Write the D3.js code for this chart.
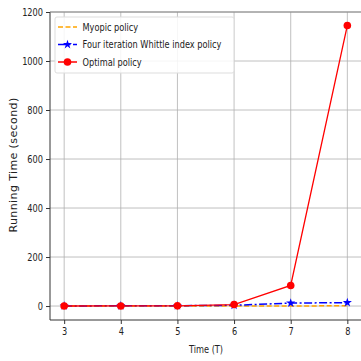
<!DOCTYPE html>
<html>
<head>
<meta charset="utf-8">
<script src="https://cdn.jsdelivr.net/npm/d3@7"></script>
<style>
  html, body { margin: 0; padding: 0; background: #fff; }
  svg { display: block; }
  text { font-family: "DejaVu Sans", sans-serif; fill: #222; }
</style>
</head>
<body>
<svg id="chart" width="361" height="361"></svg>
<script>
// Horizon lengths T
const horizons = [3, 4, 5, 6, 7, 8];
// Running time in seconds for each policy
const myopicTimes = [0.1, 0.1, 0.2, 0.3, 0.5, 0.8];
const whittleTimes = [0.5, 0.8, 1.2, 3, 12, 14];
const optimalTimes = [0.2, 0.4, 0.8, 6, 84, 1145];
// Axis ticks
const xTicks = [3, 4, 5, 6, 7, 8];
const yTicks = [0, 200, 400, 600, 800, 1000, 1200];
const seriesNames = ["Myopic policy", "Four iteration Whittle index policy", "Optimal policy"];

const svg = d3.select("#chart");
const W = 361, H = 361;
const margin = { left: 50, right: 0, top: 12, bottom: 41 };
const plotH = H - margin.top - margin.bottom;
const squeeze = 0.76;
const fs = 10.8;

const x = d3.scaleLinear().domain([2.75, 8.25]).range([margin.left, margin.left + 311.5]);
const y = d3.scaleLinear().domain([-57, 1200]).range([margin.top + plotH, margin.top]);

const g = svg.append("g");

// grid
g.append("g").selectAll("line").data(xTicks).join("line")
  .attr("x1", d => x(d)).attr("x2", d => x(d))
  .attr("y1", margin.top).attr("y2", margin.top + plotH)
  .attr("stroke", "#b0b0b0").attr("stroke-width", 0.8);
g.append("g").selectAll("line").data(yTicks).join("line")
  .attr("x1", margin.left).attr("x2", W)
  .attr("y1", d => y(d)).attr("y2", d => y(d))
  .attr("stroke", "#b0b0b0").attr("stroke-width", 0.8);

// axes
const xAxis = g.append("g").attr("transform", `translate(0,${margin.top + plotH})`)
  .call(d3.axisBottom(x).tickValues(xTicks).tickSize(4).tickPadding(3).tickFormat(d3.format("d")));
const yAxis = g.append("g").attr("transform", `translate(${margin.left},0)`)
  .call(d3.axisLeft(y).tickValues(yTicks).tickSize(4).tickPadding(3).tickFormat(d3.format("d")));
[xAxis, yAxis].forEach(a => {
  a.select(".domain").remove();
  a.selectAll(".tick line").attr("stroke", "#333");
  a.selectAll(".tick text").attr("font-size", fs).attr("fill", "#222")
    .attr("font-family", "DejaVu Sans, sans-serif");
});
yAxis.selectAll(".tick text").each(function () {
  const t = d3.select(this);
  const tx = +t.attr("x");
  t.attr("transform", `translate(${tx},0) scale(${squeeze},1) translate(${-tx},0)`);
});
xAxis.selectAll(".tick text").attr("transform", `scale(${squeeze},1)`);

// spines
g.append("line").attr("x1", margin.left).attr("x2", margin.left)
  .attr("y1", margin.top).attr("y2", margin.top + plotH).attr("stroke", "#333").attr("stroke-width", 1);
g.append("line").attr("x1", margin.left).attr("x2", W)
  .attr("y1", margin.top + plotH).attr("y2", margin.top + plotH).attr("stroke", "#333").attr("stroke-width", 1);
g.append("line").attr("x1", margin.left).attr("x2", W)
  .attr("y1", margin.top).attr("y2", margin.top).attr("stroke", "#888").attr("stroke-width", 1);

// axis titles
svg.append("text").attr("transform", `translate(206,353) scale(${squeeze},1)`)
  .attr("text-anchor", "middle").attr("font-size", fs).text("Time (T)");
svg.append("text").attr("transform", `translate(17,165) rotate(-90)`)
  .attr("text-anchor", "middle").attr("font-size", 11).attr("letter-spacing", 0.4)
  .attr("fill", "#333").text("Running Time (second)");

const line = d3.line().x((d, i) => x(horizons[i])).y(d => y(d));
const star = d3.symbol().type(d3.symbolStar).size(26);

// myopic
g.append("path").attr("d", line(myopicTimes)).attr("fill", "none")
  .attr("stroke", "orange").attr("stroke-width", 1.5).attr("stroke-dasharray", "5,2.5");
// whittle
g.append("path").attr("d", line(whittleTimes)).attr("fill", "none")
  .attr("stroke", "blue").attr("stroke-width", 1.5).attr("stroke-dasharray", "8,2.5,2,2.5");
g.append("g").selectAll("path").data(whittleTimes).join("path")
  .attr("d", star).attr("fill", "blue")
  .attr("transform", (d, i) => `translate(${x(horizons[i])},${y(d)})`);
// optimal
g.append("path").attr("d", line(optimalTimes)).attr("fill", "none")
  .attr("stroke", "red").attr("stroke-width", 1.3);
g.append("g").selectAll("circle").data(optimalTimes).join("circle")
  .attr("cx", (d, i) => x(horizons[i])).attr("cy", d => y(d)).attr("r", 3.8).attr("fill", "red");

// legend
const lg = svg.append("g");
lg.append("rect").attr("x", 55).attr("y", 17).attr("width", 179).attr("height", 56)
  .attr("rx", 2).attr("fill", "rgba(255,255,255,0.85)").attr("stroke", "#ddd");
const rows = [27, 44.5, 62];
const styles = [
  { color: "orange", dash: "5,2.5", marker: null },
  { color: "blue", dash: "8,2.5,2,2.5", marker: "star" },
  { color: "red", dash: null, marker: "circle" }
];
seriesNames.forEach((name, i) => {
  const yy = rows[i];
  const s = styles[i];
  lg.append("line").attr("x1", 58).attr("x2", 77).attr("y1", yy).attr("y2", yy)
    .attr("stroke", s.color).attr("stroke-width", 1.5).attr("stroke-dasharray", s.dash);
  if (s.marker === "star") lg.append("path").attr("d", star).attr("fill", s.color)
    .attr("transform", `translate(67.5,${yy})`);
  if (s.marker === "circle") lg.append("circle").attr("cx", 67.5).attr("cy", yy).attr("r", 3.8).attr("fill", s.color);
  lg.append("text").attr("transform", `translate(82.5,${yy + 3.9}) scale(${squeeze},1)`)
    .attr("font-size", fs).text(name);
});
</script>
</body>
</html>
